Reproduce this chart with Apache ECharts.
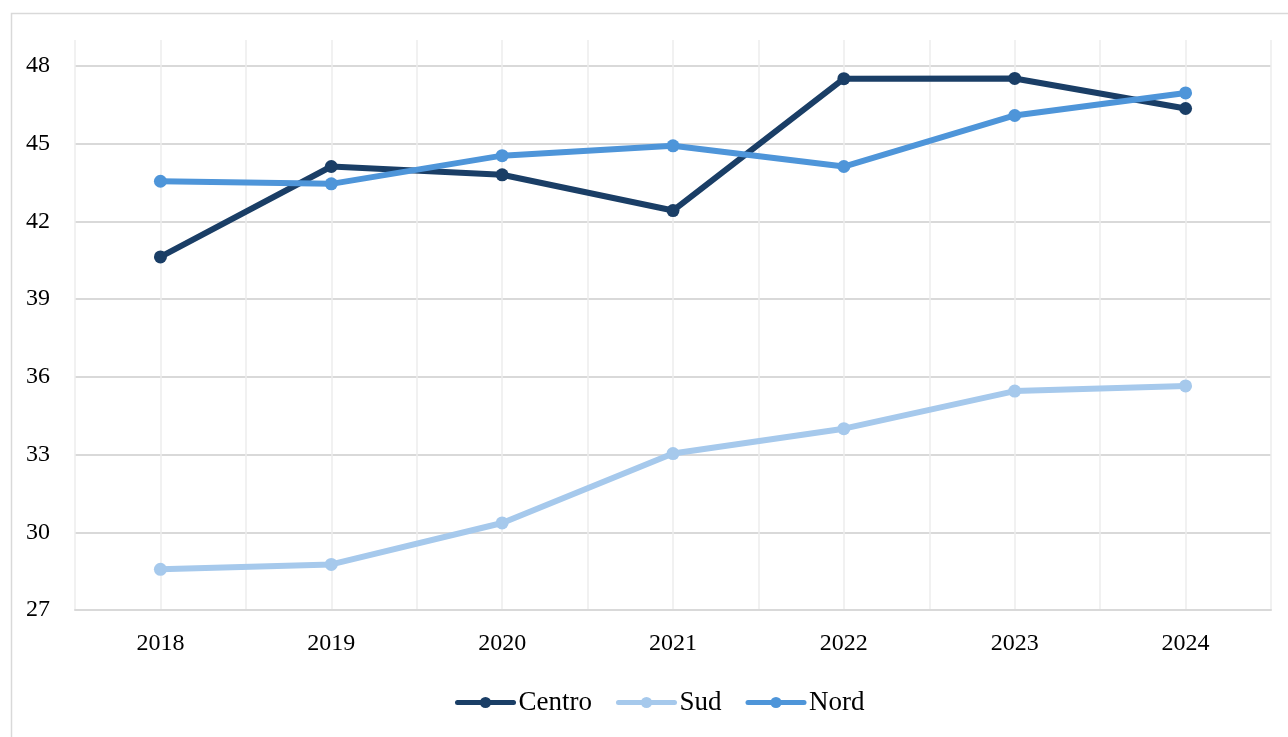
<!DOCTYPE html>
<html>
<head>
<meta charset="utf-8">
<script src="https://cdn.jsdelivr.net/npm/echarts@6/dist/echarts.min.js"></script>
<style>
  html, body { margin: 0; padding: 0; background: #fff; }
  #chart { width: 1288px; height: 737px; }
</style>
</head>
<body>
<div id="chart"></div>
<script>
const years = ['2018', '2019', '2020', '2021', '2022', '2023', '2024'];
const centro = [40.63, 44.12, 43.8, 42.42, 47.51, 47.52, 46.36];
const sud = [28.57, 28.76, 30.36, 33.04, 34.0, 35.45, 35.65];
const nord = [43.55, 43.45, 44.54, 44.92, 44.12, 46.09, 46.96];
const yTicks = [27, 30, 33, 36, 39, 42, 45, 48];

const font = '"Liberation Serif", serif';

function lineSeries(name, data, color) {
  return {
    name: name,
    type: 'line',
    xAxisIndex: 1,
    yAxisIndex: 1,
    data: data,
    symbol: 'circle',
    symbolSize: 13,
    lineStyle: { width: 6, color: color, cap: 'round', join: 'round' },
    itemStyle: { color: color },
    z: 5
  };
}

const myChart = echarts.init(document.getElementById('chart'));
const option = {
  backgroundColor: '#fff',
  animation: false,
  graphic: [{
    type: 'rect',
    left: 9, top: 11,
    shape: { width: 1300, height: 800 },
    style: { fill: 'none', stroke: '#d9d9d9', lineWidth: 1.5 },
    silent: true
  }],
  legend: {
    bottom: 16,
    left: 450,
    itemWidth: 56,
    itemHeight: 14,
    itemGap: 24,
    lineStyle: { width: 5, cap: 'round' },
    textStyle: { fontFamily: font, fontSize: 27, color: '#000' },
    data: ['Centro', 'Sud', 'Nord']
  },
  grid: [
    // vertical grid lines, reaching above the top tick
    { left: 75, right: 17, top: 40, bottom: 127 },
    // data
    { left: 75, right: 17, top: 66, bottom: 127 }
  ],
  xAxis: [{
    gridIndex: 0,
    type: 'value',
    min: 0,
    max: years.length * 2,
    interval: 1,
    axisLine: { show: false },
    axisTick: { show: false },
    axisLabel: { show: false },
    splitLine: { show: true, lineStyle: { color: '#ececec', width: 1.5 } }
  }, {
    gridIndex: 1,
    type: 'category',
    data: years,
    boundaryGap: true,
    axisLine: { show: true, lineStyle: { color: '#d9d9d9', width: 2 } },
    axisTick: { show: false },
    axisLabel: { fontFamily: font, fontSize: 24, color: '#000', margin: 22 },
    splitLine: { show: false }
  }],
  yAxis: [{
    gridIndex: 0,
    type: 'value',
    show: false,
    splitLine: { show: false }
  }, {
    gridIndex: 1,
    type: 'value',
    min: yTicks[0],
    max: yTicks[yTicks.length - 1],
    interval: 3,
    axisLine: { show: false },
    axisTick: { show: false },
    axisLabel: { fontFamily: font, fontSize: 24, color: '#000', margin: 25 },
    splitLine: { show: true, lineStyle: { color: '#d9d9d9', width: 2 } }
  }],
  series: [
    lineSeries('Centro', centro, '#1a3e66'),
    lineSeries('Sud', sud, '#a6c9ec'),
    lineSeries('Nord', nord, '#4e95d9')
  ]
};
myChart.setOption(option);
window.onresize = function () {
  myChart.resize();
};
</script>
</body>
</html>
